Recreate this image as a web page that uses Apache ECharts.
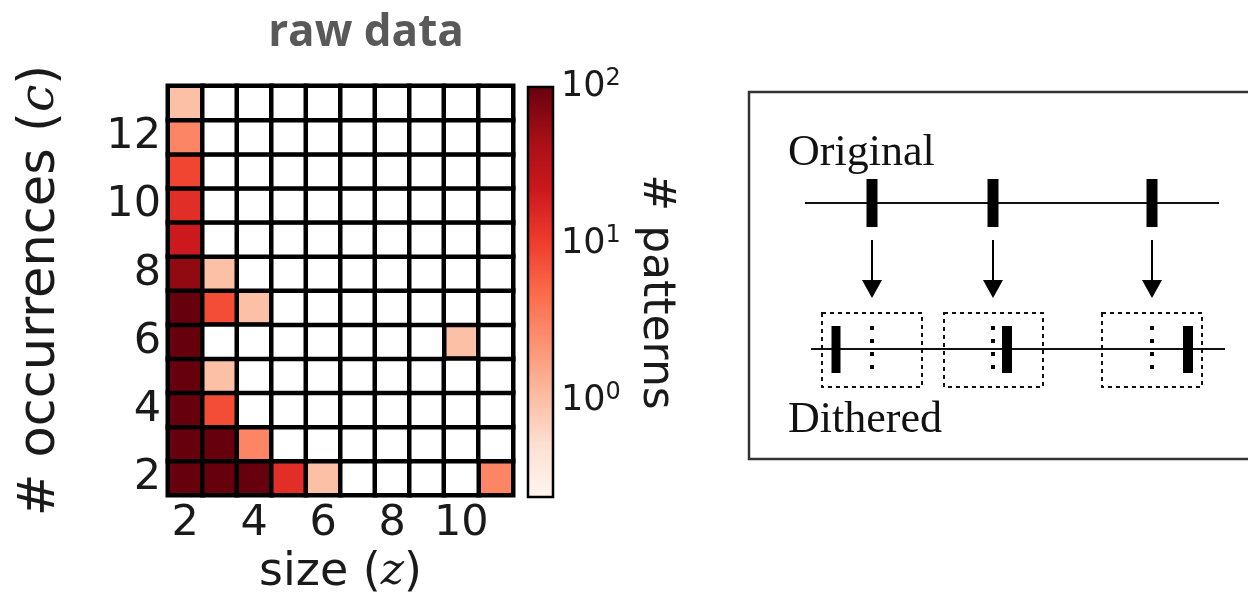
<!DOCTYPE html>
<html>
<head>
<meta charset="utf-8">
<title>raw data</title>
<script src="https://cdn.jsdelivr.net/npm/echarts@6/dist/echarts.min.js"></script>
<style>
    html, body { margin: 0; padding: 0; background: #fff; }
    #chart { width: 1248px; height: 601px; }
</style>
</head>
<body>
<div id="chart"></div>
<script>
    // categories
    var sizes = ['2', '3', '4', '5', '6', '7', '8', '9', '10', '11'];
    var occurrences = ['2', '3', '4', '5', '6', '7', '8', '9', '10', '11', '12', '13'];

    // number of patterns, one row per occurrence count (2 .. 13), one column per size (2 .. 11)
    var counts = [
        [700, 300, 150, 14, 1, 0, 0, 0, 0, 3],
        [400, 120, 3, 0, 0, 0, 0, 0, 0, 0],
        [250, 8, 0, 0, 0, 0, 0, 0, 0, 0],
        [180, 1, 0, 0, 0, 0, 0, 0, 0, 0],
        [150, 0, 0, 0, 0, 0, 0, 0, 1, 0],
        [110, 8, 1, 0, 0, 0, 0, 0, 0, 0],
        [60, 1, 0, 0, 0, 0, 0, 0, 0, 0],
        [22, 0, 0, 0, 0, 0, 0, 0, 0, 0],
        [14, 0, 0, 0, 0, 0, 0, 0, 0, 0],
        [9, 0, 0, 0, 0, 0, 0, 0, 0, 0],
        [3, 0, 0, 0, 0, 0, 0, 0, 0, 0],
        [1, 0, 0, 0, 0, 0, 0, 0, 0, 0]
    ];

    // colour bar (log scale)
    var colorMin = 0.245;
    var colorMax = 100;
    var reds = ['#fff5f0', '#fee0d2', '#fcbba1', '#fc9272', '#fb6a4a', '#ef3b2c', '#cb181d', '#a50f15', '#67000d'];

    var logMin = Math.log10(colorMin);
    var logMax = Math.log10(colorMax);

    // filled cells go through the colour map, empty ones are drawn white
    var cells = [];
    var empty = [];
    counts.forEach(function (row, i) {
        row.forEach(function (c, j) {
            if (c > 0) {
                cells.push([j, i, Math.min(Math.log10(c), logMax)]);
            } else {
                empty.push([j, i, 0]);
            }
        });
    });

    var tickFont = 'DejaVu Sans';
    var black = '#1a1a1a';

    var chart = echarts.init(document.getElementById('chart'), null, {renderer: 'canvas'});
    chart.setOption({
        animation: false,
        title: {
            text: 'raw data',
            left: 361,
            top: 6,
            textAlign: 'center',
            textStyle: {fontFamily: 'Open Sans', fontWeight: 'bold', fontSize: 44, color: '#595959'}
        },
        grid: [
            {left: 168, top: 86, width: 345, height: 411, show: false},
            {left: 528, top: 87, width: 25, height: 410, show: true,
                borderColor: '#000', borderWidth: 2.5, backgroundColor: 'transparent', z: 10}
        ],
        xAxis: [
            {
                type: 'category', gridIndex: 0, data: sizes,
                axisLine: {show: false}, axisTick: {show: false}, splitLine: {show: false},
                axisLabel: {interval: 1, margin: 7, fontFamily: tickFont, fontSize: 43, color: black},
                name: 'size ({i|z})', nameLocation: 'middle', nameGap: 51,
                nameTextStyle: {
                    fontFamily: tickFont, fontSize: 46, color: black,
                    rich: {i: {fontFamily: 'DejaVu Serif', fontStyle: 'italic', fontSize: 44, color: black}}
                }
            },
            {type: 'category', gridIndex: 1, data: [''], show: false}
        ],
        yAxis: [
            {
                type: 'category', gridIndex: 0, data: occurrences,
                axisLine: {show: false}, axisTick: {show: false}, splitLine: {show: false},
                axisLabel: {interval: 1, margin: 7, fontFamily: tickFont, fontSize: 43, color: black, padding: [6, 0, 0, 0]},
                name: '# occurrences ({i|c})', nameLocation: 'middle', nameRotate: 90, nameGap: 102,
                nameTextStyle: {
                    fontFamily: tickFont, fontSize: 51, color: black,
                    rich: {i: {fontFamily: 'DejaVu Serif', fontStyle: 'italic', fontSize: 49, color: black}}
                }
            },
            {
                type: 'log', gridIndex: 1, logBase: 10, min: colorMin, max: colorMax, position: 'right',
                axisLine: {show: false}, splitLine: {show: false},
                axisTick: {show: true, inside: true, length: 5, lineStyle: {color: '#000', width: 1.5}},
                axisLabel: {
                    margin: 8, fontFamily: tickFont, fontSize: 35, color: black,
                    showMinLabel: false,
                    formatter: function (v) {
                        var e = Math.round(Math.log10(v));
                        if (Math.abs(Math.log10(v) - e) > 1e-3) return '';
                        return '10{sup|' + e + '}';
                    },
                    rich: {sup: {fontFamily: tickFont, fontSize: 24, color: black, verticalAlign: 'top', padding: [0, 0, 16, 0]}}
                },
                name: '# patterns', nameLocation: 'middle', nameRotate: -90, nameGap: 80,
                nameTextStyle: {fontFamily: tickFont, fontSize: 44, color: black}
            }
        ],
        visualMap: {
            type: 'continuous',
            seriesIndex: 0,
            dimension: 2,
            min: logMin,
            max: logMax,
            calculable: false,
            hoverLink: false,
            orient: 'vertical',
            left: 528,
            top: 87,
            padding: 0,
            itemWidth: 25,
            itemHeight: 410,
            text: null,
            showLabel: false,
            inRange: {color: reds}
        },
        series: [{
            type: 'heatmap',
            xAxisIndex: 0,
            yAxisIndex: 0,
            data: cells,
            itemStyle: {borderColor: '#000', borderWidth: 4.5},
            emphasis: {disabled: true}
        }, {
            type: 'heatmap',
            xAxisIndex: 0,
            yAxisIndex: 0,
            data: empty,
            itemStyle: {color: '#ffffff', borderColor: '#000', borderWidth: 4.5},
            emphasis: {disabled: true}
        }],
        // dithering sketch on the right
        graphic: {
            elements: [
                {type: 'rect', shape: {x: 749, y: 92, width: 540, height: 367},
                    style: {fill: 'none', stroke: '#333', lineWidth: 2.5}},
                {type: 'text', x: 788, y: 153,
                    style: {text: 'Original', font: '44px "Liberation Serif"', fill: '#111', verticalAlign: 'middle'}},
                {type: 'text', x: 788, y: 420,
                    style: {text: 'Dithered', font: '44px "Liberation Serif"', fill: '#111', verticalAlign: 'middle'}},
                {type: 'line', shape: {x1: 805, y1: 203, x2: 1219, y2: 203}, style: {stroke: '#111', lineWidth: 2}},
                {type: 'line', shape: {x1: 811, y1: 349, x2: 1225, y2: 349}, style: {stroke: '#111', lineWidth: 2}},
                // original events
                {type: 'rect', shape: {x: 866.5, y: 179, width: 11, height: 48}, style: {fill: '#000'}},
                {type: 'rect', shape: {x: 987.5, y: 179, width: 11, height: 48}, style: {fill: '#000'}},
                {type: 'rect', shape: {x: 1146.5, y: 179, width: 11, height: 48}, style: {fill: '#000'}},
                // arrows
                {type: 'line', shape: {x1: 872, y1: 240, x2: 872, y2: 282}, style: {stroke: '#000', lineWidth: 2}},
                {type: 'polygon', shape: {points: [[862, 280], [882, 280], [872, 298]]}, style: {fill: '#000'}},
                {type: 'line', shape: {x1: 993, y1: 240, x2: 993, y2: 282}, style: {stroke: '#000', lineWidth: 2}},
                {type: 'polygon', shape: {points: [[983, 280], [1003, 280], [993, 298]]}, style: {fill: '#000'}},
                {type: 'line', shape: {x1: 1152, y1: 240, x2: 1152, y2: 282}, style: {stroke: '#000', lineWidth: 2}},
                {type: 'polygon', shape: {points: [[1142, 280], [1162, 280], [1152, 298]]}, style: {fill: '#000'}},
                // dithering windows
                {type: 'rect', shape: {x: 822, y: 313, width: 100, height: 74},
                    style: {fill: 'none', stroke: '#111', lineWidth: 2, lineDash: [4, 4]}},
                {type: 'rect', shape: {x: 944, y: 313, width: 99, height: 74},
                    style: {fill: 'none', stroke: '#111', lineWidth: 2, lineDash: [4, 4]}},
                {type: 'rect', shape: {x: 1102, y: 313, width: 100, height: 74},
                    style: {fill: 'none', stroke: '#111', lineWidth: 2, lineDash: [4, 4]}},
                // old positions (dotted)
                {type: 'line', shape: {x1: 872, y1: 326, x2: 872, y2: 373}, style: {stroke: '#000', lineWidth: 4, lineDash: [4, 9]}},
                {type: 'line', shape: {x1: 993, y1: 326, x2: 993, y2: 373}, style: {stroke: '#000', lineWidth: 4, lineDash: [4, 9]}},
                {type: 'line', shape: {x1: 1152, y1: 326, x2: 1152, y2: 373}, style: {stroke: '#000', lineWidth: 4, lineDash: [4, 9]}},
                // dithered events
                {type: 'rect', shape: {x: 831.5, y: 326, width: 9, height: 47}, style: {fill: '#000'}},
                {type: 'rect', shape: {x: 1002, y: 326, width: 10, height: 47}, style: {fill: '#000'}},
                {type: 'rect', shape: {x: 1183, y: 326, width: 10, height: 47}, style: {fill: '#000'}}
            ]
        }
    });
</script>
</body>
</html>
